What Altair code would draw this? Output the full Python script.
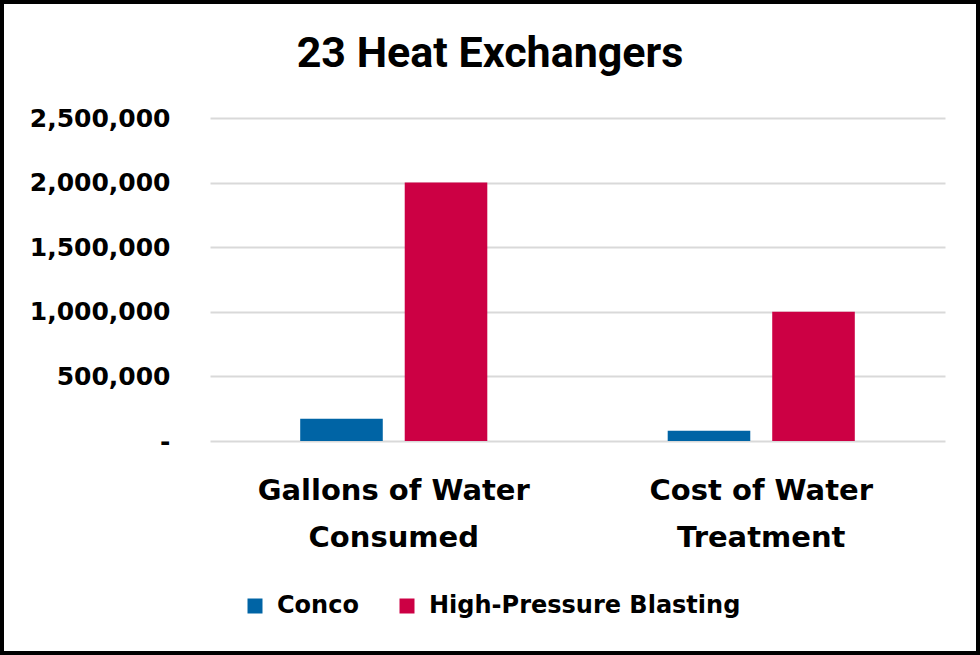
import altair as alt
import pandas as pd

categories = ["Gallons of Water Consumed", "Cost of Water Treatment"]
series = ["Conco", "High-Pressure Blasting"]
conco_values = [172500, 80000]
hpb_values = [2000000, 1000000]
y_ticks = [0, 500000, 1000000, 1500000, 2000000, 2500000]
colors = ["#0064A5", "#CC0044"]
title_text = ["23 Heat Exchangers"]

rows = []
for i, c in enumerate(categories):
    rows.append({"category": c, "series": series[0], "value": conco_values[i]})
    rows.append({"category": c, "series": series[1], "value": hpb_values[i]})
df = pd.DataFrame(rows)

W, H = 735, 323
PAD = {"left": 210, "top": 118, "right": 35, "bottom": 214}
FONT = "DejaVu Sans"

bars = alt.Chart(df).mark_bar().encode(
    x=alt.X("category:N", sort=categories, title=None,
            scale=alt.Scale(paddingInner=0, paddingOuter=0),
            axis=alt.Axis(labelAngle=0, ticks=False, domain=False,
                          labelFont=FONT, labelFontSize=29, labelFontWeight="bold",
                          labelColor="black", labelBaseline="top", labelPadding=35,
                          labelLineHeight=47, labelLimit=0,
                          labelExpr="datum.value == 'Gallons of Water Consumed' ? ['Gallons of Water', 'Consumed'] : ['Cost of Water', 'Treatment']")),
    xOffset=alt.XOffset("series:N", sort=series,
                        scale=alt.Scale(paddingInner=0.21, paddingOuter=0.863)),
    y=alt.Y("value:Q", title=None,
            scale=alt.Scale(domain=[0, 2500000], nice=False),
            axis=alt.Axis(values=y_ticks, ticks=False, domain=False,
                          grid=True, gridColor="#d9d9d9", gridWidth=2,
                          labelFont=FONT, labelFontSize=25, labelFontWeight="bold",
                          labelColor="black", labelPadding=40,
                          labelExpr="datum.value == 0 ? '-\u00a0\u00a0' : format(datum.value, ',')")),
    color=alt.Color("series:N", sort=series,
                    scale=alt.Scale(domain=series, range=colors),
                    legend=alt.Legend(title=None, orient="none", direction="horizontal",
                                      legendX=33, legendY=476,
                                      symbolType="square", symbolSize=225,
                                      symbolStrokeWidth=0, symbolOpacity=1,
                                      labelFont=FONT, labelFontSize=24,
                                      labelFontWeight="bold", labelColor="black",
                                      labelOffset=10, columnPadding=36, labelLimit=0)),
)

title = alt.Chart(pd.DataFrame({"t": title_text})).mark_text(
    font="Roboto", fontSize=43, fontWeight="bold", color="black",
    align="center", baseline="middle"
).encode(
    text="t:N", x=alt.value(490 - PAD["left"]), y=alt.value(54 - PAD["top"])
)

frame = alt.Chart(pd.DataFrame({"a": [0]})).mark_rect(
    fill=None, stroke="black", strokeWidth=4
).encode(
    x=alt.value(-PAD["left"] + 2), x2=alt.value(W + PAD["right"] - 2),
    y=alt.value(-PAD["top"] + 2), y2=alt.value(H + PAD["bottom"] - 2),
)

chart = alt.layer(bars, title, frame).properties(
    width=W, height=H,
    autosize=alt.AutoSizeParams(type="none"),
    padding=PAD,
    background="white",
).configure_view(stroke=None)

chart.save("out.html", embed_options={"renderer": "svg", "actions": False})
